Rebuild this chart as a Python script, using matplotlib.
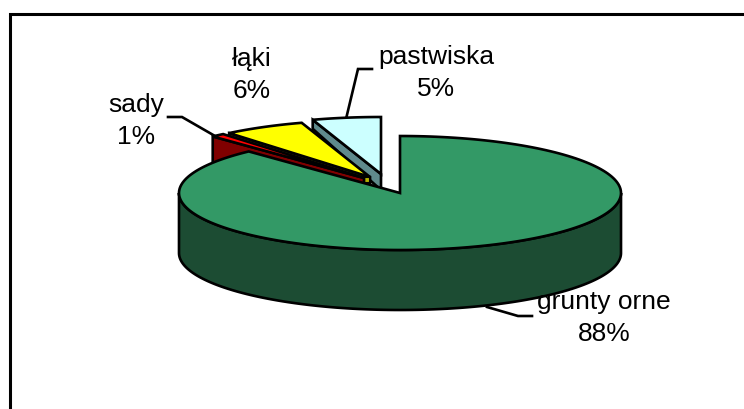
import matplotlib
matplotlib.use("Agg")
import matplotlib.pyplot as plt
from matplotlib.patches import Polygon
import numpy as np

labels = ["grunty orne", "sady", "łąki", "pastwiska"]
shares = [88, 1, 6, 5]

top_colors = ["#339966", "#FF0000", "#FFFF00", "#CCFFFF"]
side_colors = ["#1C4C33", "#800000", "#4D4D00", "#5F8A8C"]

# pie geometry, in pixels
CX, CY = 400, 194
RX, RY = 221, 57
DEPTH = 60
# pull-out of each slice's tip from the pie centre
offsets = [(0, 0), (-36, -15), (-30, -16), (-19, -19)]
# side wall height at the rim and at the tip of the pulled-out slices
side_depth = [None, (28, 8), (5, 7), (9, 16)]

plt.rcParams["font.family"] = ["Liberation Sans", "DejaVu Sans"]

fig = plt.figure(figsize=(7.44, 4.10), dpi=100)
ax = fig.add_axes([0, 0, 1, 1])
ax.set_xlim(0, 744)
ax.set_ylim(410, 0)
ax.axis("off")

LW = 1.9


def rim(a0, a1, dx=0, dy=0):
    t = np.radians(np.linspace(a0, a1, 200))
    return np.column_stack([CX + dx + RX * np.cos(t), CY + dy - RY * np.sin(t)])


# slices run clockwise from twelve o'clock
edges = 90 - 3.6 * np.cumsum([0] + shares)

# leader lines
leaders = [
    ([168, 182, 215], [118, 118, 137]),
    ([372, 358, 346], [70, 70, 120]),
    ([532, 518, 487], [317, 317, 308]),
]
for xs, ys in leaders:
    ax.plot(xs, ys, color="black", lw=LW, zorder=1, solid_joinstyle="miter")

# pulled-out slices, back to front
z = 2
for i in [3, 2, 1]:
    # edges[i] is the counter-clockwise end, the side whose wall shows
    a0, a1 = edges[i + 1], edges[i]
    dx, dy = offsets[i]
    tip = np.array([CX + dx, CY + dy])
    arc = rim(a0, a1, dx, dy)
    outer = arc[-1]
    rim_d, tip_d = side_depth[i]
    wall = [outer, tip, tip + [0, tip_d], outer + [0, rim_d]]
    ax.add_patch(Polygon(wall, fc=side_colors[i], ec="black", lw=LW, joinstyle="miter", zorder=z))
    if labels[i] == "łąki":
        ax.add_patch(Polygon([tip + [-6, 0], tip, tip + [0, 6], tip + [-6, 6]],
                             fc="#B3B300", ec="black", lw=LW * 0.8, zorder=z))
    ax.add_patch(Polygon(np.vstack([tip, arc]), fc=top_colors[i], ec="black", lw=LW,
                         joinstyle="miter", zorder=z))
    z += 1

# main slice: front wall, then top
front = rim(180, 360)
ax.add_patch(Polygon(np.vstack([front, (front + [0, DEPTH])[::-1]]),
                     fc=side_colors[0], ec="black", lw=LW, zorder=z))
top = rim(edges[0], edges[1])
ax.add_patch(Polygon(np.vstack([[CX, CY], top]), fc=top_colors[0], ec="black", lw=LW,
                     joinstyle="miter", zorder=z + 1))

# data labels
positions = [(604, 318), (136, 121), (252, 75), (436, 73)]
for name, share, (x, y) in zip(labels, shares, positions):
    ax.text(x, y, f"{name}\n{share}%", ha="center", va="center", fontsize=19,
            linespacing=1.45, color="black", zorder=z + 2)

# frame, only the top and left edges fall inside the canvas
ax.plot([10, 10, 744], [410, 14.5, 14.5], color="black", lw=2.2,
        solid_joinstyle="miter")

fig.savefig("out.png", dpi=100, facecolor="white")
